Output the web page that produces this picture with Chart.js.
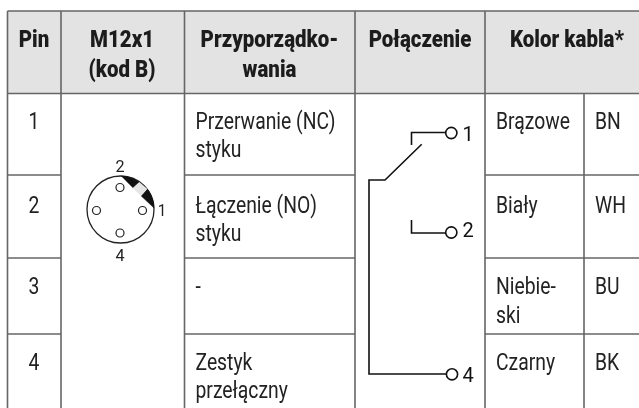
<!DOCTYPE html>
<html>
<head>
<meta charset="utf-8">
<title>M12x1</title>
<script src="https://cdn.jsdelivr.net/npm/chart.js@4"></script>
<style>
  html, body { margin: 0; padding: 0; background: #fff; }
  #wrap { width: 639px; height: 408px; }
  canvas { display: block; }
</style>
</head>
<body>
<div id="wrap"><canvas id="pinChart" width="639" height="408"></canvas></div>
<script>
// tekst tabeli
const headers = [['Pin'], ['M12x1', '(kod B)'], ['Przyporządko-', 'wania'], ['Połączenie'], ['Kolor kabla*']];
const pins = ['1', '2', '3', '4'];
const assignments = [['Przerwanie (NC)', 'styku'], ['Łączenie (NO)', 'styku'], ['-'], ['Zestyk', 'przełączny']];
const cableColors = [['Brązowe'], ['Biały'], ['Niebie-', 'ski'], ['Czarny']];
const cableCodes = ['BN', 'WH', 'BU', 'BK'];

// siatka tabeli
const columnEdges = [7.5, 61, 184.5, 355, 485, 584];
const rowEdges = [11, 93.5, 175, 258, 334];
const tableRight = 639;
const tableBottom = 408;

// schemat wtyku M12
const plugCentre = [{x: 120.5, y: 209.5}];
const plugPins = [{x: 120, y: 187.5}, {x: 96.5, y: 210.5}, {x: 142.5, y: 210.5}, {x: 120, y: 233}];
const keyLeft = [[121, 176], [127, 176.6], [133, 178.5], [139, 182], [132.7, 187.7]];
const keyGap = [[139, 182], [147, 189], [141, 195.7], [132.7, 187.7]];
const keyRight = [[147, 189], [150.5, 194], [153, 200], [154, 208], [141, 195.7]];

// schemat styku
const wireNc = [[411.5, 145], [411.5, 132.5], [446, 132.5]];
const wireNo = [[411.5, 220], [411.5, 233], [446, 233]];
const wireCommon = [[421.7, 144.3], [385, 180], [369, 180], [369, 374], [446, 374]];
const terminals = [{x: 451.3, y: 133}, {x: 451.3, y: 232.5}, {x: 452, y: 374.3}];

const toPoints = arr => arr.map(p => ({x: p[0], y: p[1]}));

function gridLine(points) {
    return {data: points, borderColor: '#666666', borderWidth: 1.6, pointRadius: 0, showLine: true, order: 5};
}

function wire(points) {
    return {data: toPoints(points), borderColor: '#111111', borderWidth: 1.6, pointRadius: 0, showLine: true, order: 2};
}

function keyShape(points, color) {
    return {data: toPoints(points), borderColor: color, backgroundColor: color, borderWidth: 0.5,
        pointRadius: 0, showLine: true, fill: 'shape', order: 2};
}

const datasets = [];

// tlo naglowka
datasets.push({
    data: [{x: columnEdges[0], y: rowEdges[1]}, {x: tableRight, y: rowEdges[1]}],
    showLine: true, borderWidth: 0, pointRadius: 0,
    backgroundColor: '#e3e3e3', fill: {value: rowEdges[0]}, order: 9
});

// linie poziome
datasets.push(gridLine([{x: columnEdges[0], y: rowEdges[0]}, {x: tableRight, y: rowEdges[0]}]));
datasets.push(gridLine([{x: columnEdges[0], y: rowEdges[1]}, {x: tableRight, y: rowEdges[1]}]));
rowEdges.slice(2).forEach(y => {
    datasets.push(gridLine([{x: columnEdges[0], y: y}, {x: columnEdges[1], y: y}]));
    datasets.push(gridLine([{x: columnEdges[2], y: y}, {x: columnEdges[3], y: y}]));
    datasets.push(gridLine([{x: columnEdges[4], y: y}, {x: tableRight, y: y}]));
});

// linie pionowe
columnEdges.forEach((x, i) => {
    const top = i === 5 ? rowEdges[1] : rowEdges[0];
    datasets.push(gridLine([{x: x, y: top}, {x: x, y: tableBottom}]));
});

datasets.push(wire(wireNc), wire(wireNo), wire(wireCommon));
datasets.push(keyShape(keyLeft, '#111111'), keyShape(keyGap, '#e6e6e6'), keyShape(keyRight, '#111111'));

datasets.push({data: plugCentre, pointRadius: 33.5, pointBorderWidth: 1.3, pointBorderColor: '#222222',
    pointBackgroundColor: 'rgba(0,0,0,0)', order: 3});
datasets.push({data: plugPins, pointRadius: 4, pointBorderWidth: 1.2, pointBorderColor: '#222222',
    pointBackgroundColor: '#ffffff', order: 1});
datasets.push({data: terminals, pointRadius: 5.6, pointBorderWidth: 1.6, pointBorderColor: '#111111',
    pointBackgroundColor: '#ffffff', order: 1});

const bodyFont = '23px Roboto, sans-serif';
const headFont = '900 23px Roboto, sans-serif';
const numberFont = '20px Roboto, sans-serif';
const smallFont = '17px Roboto, sans-serif';
const narrowBody = 0.84;
const narrowHead = 0.89;

const headerCentres = [34, 122, 269.5, 420, 567];
const headerBaselines = [46.7, 77];
const rowBaselines = [[129, 157], [213, 241], [294, 323], [370, 398]];
const pinCentre = 34;
const assignmentLeft = 195.5;
const colorLeft = 496;
const codeLeft = 595;

const tablePlugin = {
    id: 'tableText',
    afterDatasetsDraw(chart) {
        const ctx = chart.ctx;
        const sx = chart.scales.x;
        const sy = chart.scales.y;
        const put = (text, x, y, font, align, narrow, color) => {
            ctx.save();
            ctx.translate(sx.getPixelForValue(x), sy.getPixelForValue(y));
            ctx.scale(narrow, 1);
            ctx.font = font;
            ctx.textAlign = align;
            ctx.textBaseline = 'alphabetic';
            ctx.fillStyle = color || '#222222';
            ctx.fillText(text, 0, 0);
            ctx.restore();
        };
        headers.forEach((lines, i) => {
            lines.forEach((t, j) => put(t, headerCentres[i], headerBaselines[j], headFont, 'center', narrowHead, '#1c1c1c'));
        });
        pins.forEach((t, i) => put(t, pinCentre, rowBaselines[i][0], bodyFont, 'center', narrowBody));
        assignments.forEach((lines, i) => {
            lines.forEach((t, j) => put(t, assignmentLeft, rowBaselines[i][j], bodyFont, 'left', narrowBody));
        });
        cableColors.forEach((lines, i) => {
            lines.forEach((t, j) => put(t, colorLeft, rowBaselines[i][j], bodyFont, 'left', narrowBody));
        });
        cableCodes.forEach((t, i) => put(t, codeLeft, rowBaselines[i][0], bodyFont, 'left', narrowBody));
        // numery na schematach
        put('2', 120, 171.5, smallFont, 'center', 0.95);
        put('4', 120, 261, smallFont, 'center', 0.95);
        put('1', 162, 216, smallFont, 'center', 0.9);
        put('1', 468, 140.5, numberFont, 'center', 1, '#111111');
        put('2', 468, 236.5, numberFont, 'center', 1, '#111111');
        put('4', 468, 381.5, numberFont, 'center', 1, '#111111');
    }
};

new Chart(document.getElementById('pinChart').getContext('2d'), {
    type: 'scatter',
    data: {datasets: datasets},
    options: {
        responsive: false,
        animation: false,
        events: [],
        layout: {padding: 0, autoPadding: false},
        plugins: {legend: {display: false}, tooltip: {enabled: false}},
        scales: {
            x: {type: 'linear', min: 0, max: 639, display: false},
            y: {type: 'linear', min: 0, max: 408, reverse: true, display: false}
        }
    },
    plugins: [tablePlugin]
});
</script>
</body>
</html>
